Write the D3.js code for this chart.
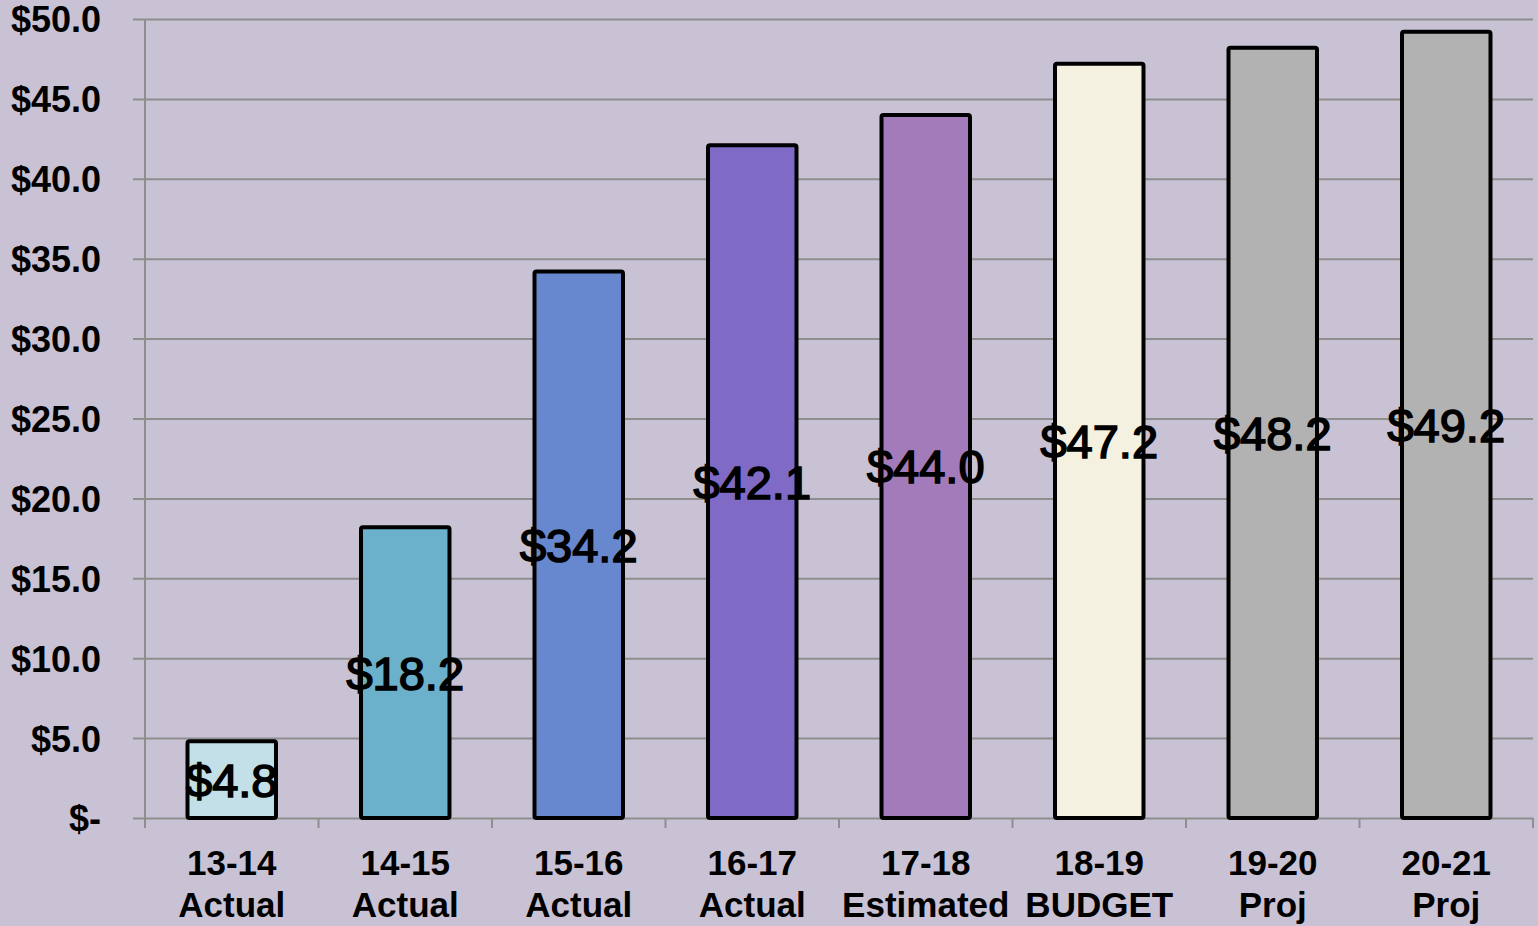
<!DOCTYPE html>
<html>
<head>
<meta charset="utf-8">
<script src="https://cdn.jsdelivr.net/npm/d3@7/dist/d3.min.js"></script>
<style>
  html, body { margin: 0; padding: 0; background: #C8C2D4; }
  svg { display: block; }
</style>
</head>
<body>
<svg id="chart" width="1538" height="926"></svg>
<script>
// Fiscal years and their status line
const years = ["13-14", "14-15", "15-16", "16-17", "17-18", "18-19", "19-20", "20-21"];
const status = ["Actual", "Actual", "Actual", "Actual", "Estimated", "BUDGET", "Proj", "Proj"];
// Amounts in millions of dollars
const amounts = [4.8, 18.2, 34.2, 42.1, 44.0, 47.2, 48.2, 49.2];
const fills = ["#C3E0E8", "#6BB1CB", "#6787CF", "#7F6BC6", "#A47BBA", "#F4F1E1", "#B2B2B2", "#B2B2B2"];
const yTicks = [0, 5, 10, 15, 20, 25, 30, 35, 40, 45, 50];

const svg = d3.select("#chart");
const W = 1538, H = 926;
const m = { left: 145, right: 5, top: 19, bottom: 108 };
const plotW = W - m.left - m.right;
const plotH = H - m.top - m.bottom;

svg.append("rect").attr("width", W).attr("height", H).attr("fill", "#C8C2D4");

const x = d3.scaleBand().domain(years).range([0, plotW]).paddingInner(0.49).paddingOuter(0.245);
const band = plotW / years.length;
const y = d3.scaleLinear().domain([0, 50]).range([plotH, 0]);

const g = svg.append("g").attr("transform", `translate(${m.left},${m.top})`);

const fmt = v => v === 0 ? "$-" : "$" + d3.format(".1f")(v);

// Horizontal gridlines + left axis labels
const yAxis = d3.axisLeft(y).tickValues(yTicks).tickSize(-plotW - 12).tickSizeOuter(0).tickFormat(fmt).tickPadding(32);
const yg = g.append("g").attr("transform", "translate(-12,0)").call(yAxis);
yg.select(".domain").remove();
yg.selectAll(".tick line").attr("stroke", "#8E8E8E").attr("stroke-width", 2).attr("x1", 0).attr("x2", plotW + 12);
yg.selectAll(".tick text")
  .attr("fill", "#000")
  .style("font-family", "'Liberation Sans', Arial, sans-serif")
  .style("font-weight", "bold")
  .style("font-size", "36px")
  .attr("dy", "0.36em");

// Vertical axis line
g.append("line").attr("x1", 0).attr("x2", 0).attr("y1", 0).attr("y2", plotH + 10)
  .attr("stroke", "#8E8E8E").attr("stroke-width", 2);

// Category boundary ticks under the baseline
const bounds = d3.range(years.length + 1).map(i => i * band);
g.selectAll("line.xtick").data(bounds).join("line")
  .attr("class", "xtick")
  .attr("x1", d => d).attr("x2", d => d)
  .attr("y1", plotH).attr("y2", plotH + 10)
  .attr("stroke", "#8E8E8E").attr("stroke-width", 2);

// Bars
g.selectAll("rect.bar").data(amounts).join("rect")
  .attr("class", "bar")
  .attr("x", (d, i) => x(years[i]))
  .attr("y", d => y(d))
  .attr("width", x.bandwidth())
  .attr("height", d => plotH - y(d))
  .attr("rx", 2)
  .attr("fill", (d, i) => fills[i])
  .attr("stroke", "#000")
  .attr("stroke-width", 4);

// Value labels, centered within each bar
g.selectAll("text.val").data(amounts).join("text")
  .attr("class", "val")
  .attr("x", (d, i) => x(years[i]) + x.bandwidth() / 2)
  .attr("y", d => (y(d) + plotH) / 2)
  .attr("dy", "0.36em")
  .attr("text-anchor", "middle")
  .style("font-family", "'Liberation Sans', Arial, sans-serif")
  .style("font-size", "47px")
  .attr("fill", "#000")
  .attr("stroke", "#000")
  .attr("stroke-width", 1.6)
  .text(d => "$" + d3.format(".1f")(d));

// Category labels (two lines)
const cat = g.selectAll("text.cat").data(years).join("text")
  .attr("class", "cat")
  .attr("text-anchor", "middle")
  .attr("x", d => x(d) + x.bandwidth() / 2)
  .style("font-family", "'Liberation Sans', Arial, sans-serif")
  .style("font-weight", "bold")
  .style("font-size", "35px")
  .attr("fill", "#000");
cat.append("tspan").attr("x", d => x(d) + x.bandwidth() / 2).attr("y", plotH + 57).text(d => d);
cat.append("tspan").attr("x", d => x(d) + x.bandwidth() / 2).attr("y", plotH + 99).text((d, i) => status[i]);
</script>
</body>
</html>
